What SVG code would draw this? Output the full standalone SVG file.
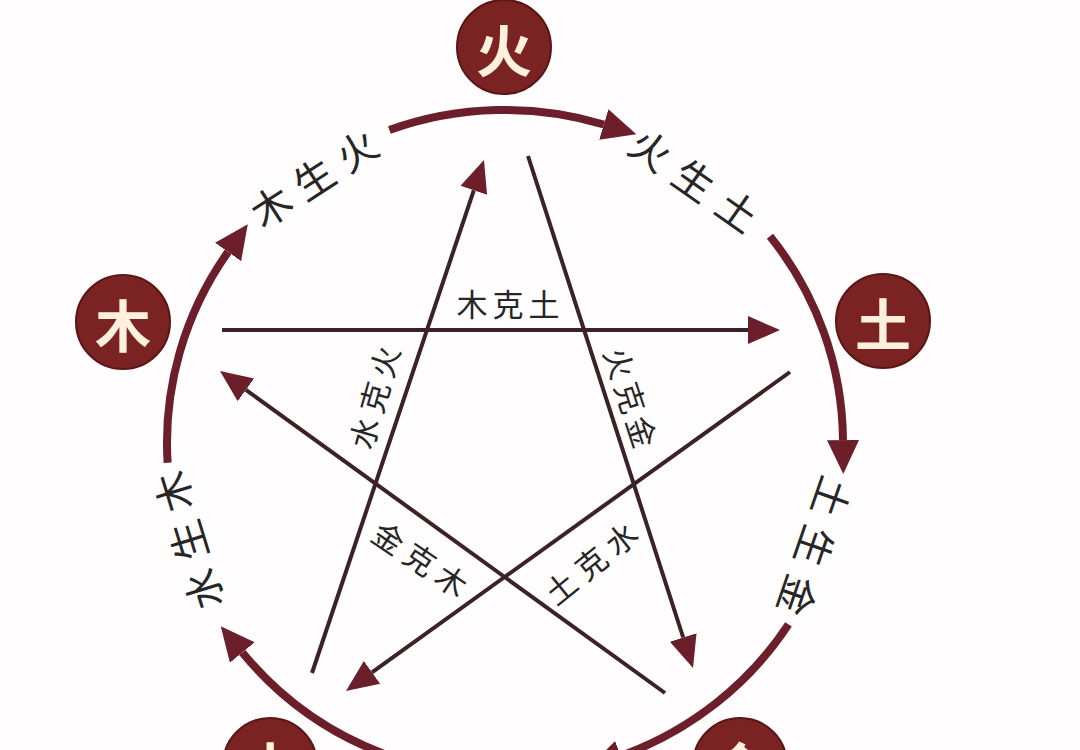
<svg xmlns="http://www.w3.org/2000/svg" width="1080" height="750" viewBox="0 0 1080 750">
  <defs>
    <style>
      .node circle { fill: #7b2222; stroke: #5a1616; stroke-width: 2; }
      .node text { font-family: "Noto Sans CJK SC", "Noto Sans", sans-serif; font-weight: 700; font-size: 56px; fill: #fdf1de; text-anchor: middle; dominant-baseline: central; }
      .arc { fill: none; stroke: #6c1e2b; stroke-width: 8; }
      .ke { fill: none; stroke: #3a2226; stroke-width: 4; }
      .sheng { font-family: "Noto Sans CJK SC", "Noto Sans", sans-serif; font-size: 40px; fill: #262626; text-anchor: middle; dominant-baseline: central; }
      .kel { font-family: "Noto Sans CJK SC", "Noto Sans", sans-serif; font-size: 31px; fill: #262626; text-anchor: middle; dominant-baseline: central; }
    </style>
    <marker id="arcHead" markerUnits="userSpaceOnUse" markerWidth="40" markerHeight="40" viewBox="0 -20 40 40" refX="0" refY="0" orient="auto">
      <path d="M0,-16 L34,0 L0,16 Z" fill="#6c1e2b"/>
    </marker>
    <marker id="keHead" markerUnits="userSpaceOnUse" markerWidth="40" markerHeight="40" viewBox="0 -20 40 40" refX="0" refY="0" orient="auto">
      <path d="M0,-14 L32,0 L0,14 Z" fill="#6a1f2a"/>
    </marker>
  </defs>
  <rect width="1080" height="750" fill="#fffdfd"/>

  <g id="connectors">
    <!-- generating cycle arcs -->
    <path class="arc" d="M389.4,130 A338,333 0 0 1 603.8,124.5" marker-end="url(#arcHead)"/>
    <path class="arc" d="M770,236.2 A338,333 0 0 1 843,440.1" marker-end="url(#arcHead)"/>
    <path class="arc" d="M788.5,624.4 A338,333 0 0 1 620.6,756" marker-end="url(#arcHead)"/>
    <path class="arc" d="M389.4,755.9 A338,333 0 0 1 242.3,652.5" marker-end="url(#arcHead)"/>
    <path class="arc" d="M167.6,462.7 A338,333 0 0 1 228.1,251.9" marker-end="url(#arcHead)"/>
    <!-- controlling star lines -->
    <line class="ke" x1="222" y1="330" x2="748" y2="330" marker-end="url(#keHead)"/>
    <line class="ke" x1="312" y1="673" x2="473.8" y2="190.3" marker-end="url(#keHead)"/>
    <line class="ke" x1="528" y1="156" x2="683.2" y2="637.5" marker-end="url(#keHead)"/>
    <line class="ke" x1="790" y1="372" x2="372" y2="672.3" marker-end="url(#keHead)"/>
    <line class="ke" x1="665" y1="693" x2="245.9" y2="389.8" marker-end="url(#keHead)"/>
  </g>

  <g id="labels">
    <g transform="translate(313,177) rotate(-33)"><text class="sheng" x="-51 0 51" y="0">木生火</text></g>
    <g transform="translate(695,179) rotate(35)"><text class="sheng" x="-53 0 53" y="0">火生土</text></g>
    <g transform="translate(816,547) rotate(109)"><text class="sheng" x="-52 0 52" y="0">土生金</text></g>
    <g transform="translate(187,541) rotate(-107)"><text class="sheng" x="-51 0 51" y="0">水生木</text></g>

    <text class="kel" x="472 508 544" y="302">木克土</text>
    <g transform="translate(373,397) rotate(-74)"><text class="kel" x="-37 0 37" y="0">水克火</text></g>
    <g transform="translate(632,397) rotate(72)"><text class="kel" x="-36 0 36" y="0">火克金</text></g>
    <g transform="translate(421,558) rotate(34)"><text class="kel" x="-38 0 38" y="0">金克木</text></g>
    <g transform="translate(590,562) rotate(-39)"><text class="kel" x="-39 0 39" y="0">土克水</text></g>
  </g>

  <g id="node-huo" class="node"><circle cx="504" cy="47" r="47"/><text x="504" y="47">火</text></g>
  <g id="node-mu" class="node"><circle cx="123" cy="322" r="47"/><text x="123" y="322">木</text></g>
  <g id="node-tu" class="node"><circle cx="883" cy="321" r="47"/><text x="883" y="321">土</text></g>
  <g id="node-shui" class="node"><circle cx="270" cy="765" r="47"/><text x="270" y="765">水</text></g>
  <g id="node-jin" class="node"><circle cx="740" cy="765" r="47"/><text x="740" y="765">金</text></g>
</svg>
